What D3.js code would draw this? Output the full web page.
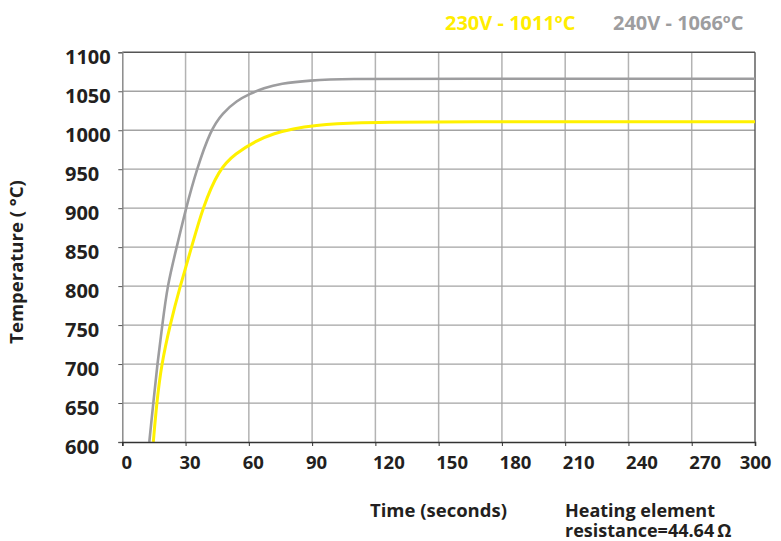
<!DOCTYPE html>
<html>
<head>
<meta charset="utf-8">
<script src="https://cdn.jsdelivr.net/npm/d3@7"></script>
<style>
  body { margin: 0; background: #fff; }
  text { font-family: "Open Sans", "Noto Sans", sans-serif; font-weight: bold; fill: #231f20; }
</style>
</head>
<body>
<div id="chart"></div>
<script>
// time (s) and temperature (°C)
const timeTicks = [0, 30, 60, 90, 120, 150, 180, 210, 240, 270, 300];
const tempTicks = [600, 650, 700, 750, 800, 850, 900, 950, 1000, 1050, 1100];

const t240 = [12.8, 14.7, 16.6, 19.0, 21.3, 25.8, 30.2, 35.3, 41.8, 47.5, 54.3, 60.6, 67, 74.8, 89.1, 105, 150, 300];
const v240 = [600, 650, 700, 750, 800, 850, 900, 950, 1000, 1022, 1038, 1047, 1054, 1060, 1064, 1066, 1066, 1066];

const t230 = [14.7, 16.3, 18.6, 22.6, 27.4, 32.9, 38.0, 45.8, 53.5, 63.8, 72, 81, 90.5, 110, 150, 300];
const v230 = [600, 650, 700, 750, 800, 850, 900, 950, 970, 987, 996, 1002, 1006, 1010, 1011, 1011];

const seriesNames = ["230V - 1011ºC", "240V - 1066ºC"];
const seriesColors = ["#fff100", "#9d9d9f"];
const noteLines = ["Heating element", "resistance=44.64\u2009Ω"];

class HeatChart {
    constructor() {
        this.width = 781;
        this.height = 541;
        this.margin = {top: 52.3, right: 26, bottom: 99, left: 122.3};
        this.svg = d3.select("#chart").append("svg")
            .attr("width", this.width)
            .attr("height", this.height);
    }

    draw() {
        let m = this.margin;
        let xScale = d3.scaleLinear().domain([0, 300]).range([m.left, this.width - m.right]);
        let yScale = d3.scaleLinear().domain([600, 1100]).range([this.height - m.bottom, m.top]);

        // grid
        this.svg.append("g").selectAll("line").data(timeTicks.slice(1, -1)).enter().append("line")
            .attr("x1", d => xScale(d)).attr("x2", d => xScale(d))
            .attr("y1", yScale(600)).attr("y2", yScale(1100))
            .attr("stroke", "#b3b3b3").attr("stroke-width", 1.5);
        this.svg.append("g").selectAll("line").data(tempTicks.slice(1, -1)).enter().append("line")
            .attr("x1", xScale(0)).attr("x2", xScale(300))
            .attr("y1", d => yScale(d)).attr("y2", d => yScale(d))
            .attr("stroke", "#a3a3a3").attr("stroke-width", 1.3);

        // frame top / right
        this.svg.append("line")
            .attr("x1", xScale(0)).attr("x2", xScale(300))
            .attr("y1", yScale(1100)).attr("y2", yScale(1100))
            .attr("stroke", "#555").attr("stroke-width", 1.4);
        this.svg.append("line")
            .attr("x1", xScale(300)).attr("x2", xScale(300))
            .attr("y1", yScale(1100)).attr("y2", yScale(600))
            .attr("stroke", "#555").attr("stroke-width", 1.4);

        // lines
        let line = d3.line()
            .x(d => xScale(d[0]))
            .y(d => yScale(d[1]))
            .curve(d3.curveBasis);
        let data = [
            {name: seriesNames[1], color: seriesColors[1], pts: t240.map((t, i) => [t, v240[i]]), w: 2.6},
            {name: seriesNames[0], color: seriesColors[0], pts: t230.map((t, i) => [t, v230[i]]), w: 3}
        ];
        this.svg.append("g").selectAll("path").data(data).enter().append("path")
            .attr("d", d => line(d.pts))
            .attr("fill", "none")
            .attr("stroke", d => d.color)
            .attr("stroke-width", d => d.w);

        // y axis
        let yAxis = this.svg.append("g")
            .attr("transform", "translate(" + xScale(0) + ",0)")
            .call(d3.axisLeft(yScale).tickValues(tempTicks).tickSize(4).tickFormat(d3.format("d")));
        yAxis.select(".domain").attr("stroke", "#8a8a8a").attr("stroke-width", 1.5);
        yAxis.selectAll(".tick line").attr("stroke", "#555");
        yAxis.selectAll(".tick text")
            .attr("text-anchor", "start")
            .attr("x", 65 - xScale(0))
            .attr("dy", "0.55em")
            .style("font-size", "20px")
            .attr("fill", "#231f20");

        // x axis
        let xAxis = this.svg.append("g")
            .attr("transform", "translate(0," + yScale(600) + ")")
            .call(d3.axisBottom(xScale).tickValues(timeTicks).tickSize(4));
        xAxis.select(".domain").attr("stroke", "#333").attr("stroke-width", 1.6);
        xAxis.selectAll(".tick line").attr("stroke", "#333");
        xAxis.selectAll(".tick text")
            .attr("y", 14)
            .attr("dx", d => d === 300 ? 0 : (d >= 120 ? 13 : 4))
            .style("font-size", "18.5px")
            .attr("fill", "#231f20");

        // titles
        this.svg.append("text")
            .attr("transform", "translate(23,262) rotate(-90)")
            .attr("text-anchor", "middle")
            .style("font-size", "18.5px")
            .text("Temperature ( °C)");
        this.svg.append("text")
            .attr("x", 370).attr("y", 517)
            .style("font-size", "18.5px")
            .text("Time (seconds)");
        this.svg.append("text")
            .attr("y", 517)
            .style("font-size", "18px")
            .selectAll("tspan").data(noteLines).enter().append("tspan")
            .attr("x", 565)
            .attr("dy", (d, i) => i === 0 ? 0 : 19.5)
            .text(d => d);

        // legend
        let legendX = [445, 613];
        this.svg.append("g").selectAll("text").data(seriesNames).enter().append("text")
            .attr("x", (d, i) => legendX[i]).attr("y", 30)
            .style("font-size", "20px")
            .style("fill", (d, i) => i === 0 ? "#ffed00" : "#9d9d9f")
            .text(d => d);
    }
}

let chart = new HeatChart();
chart.draw();
</script>
</body>
</html>
